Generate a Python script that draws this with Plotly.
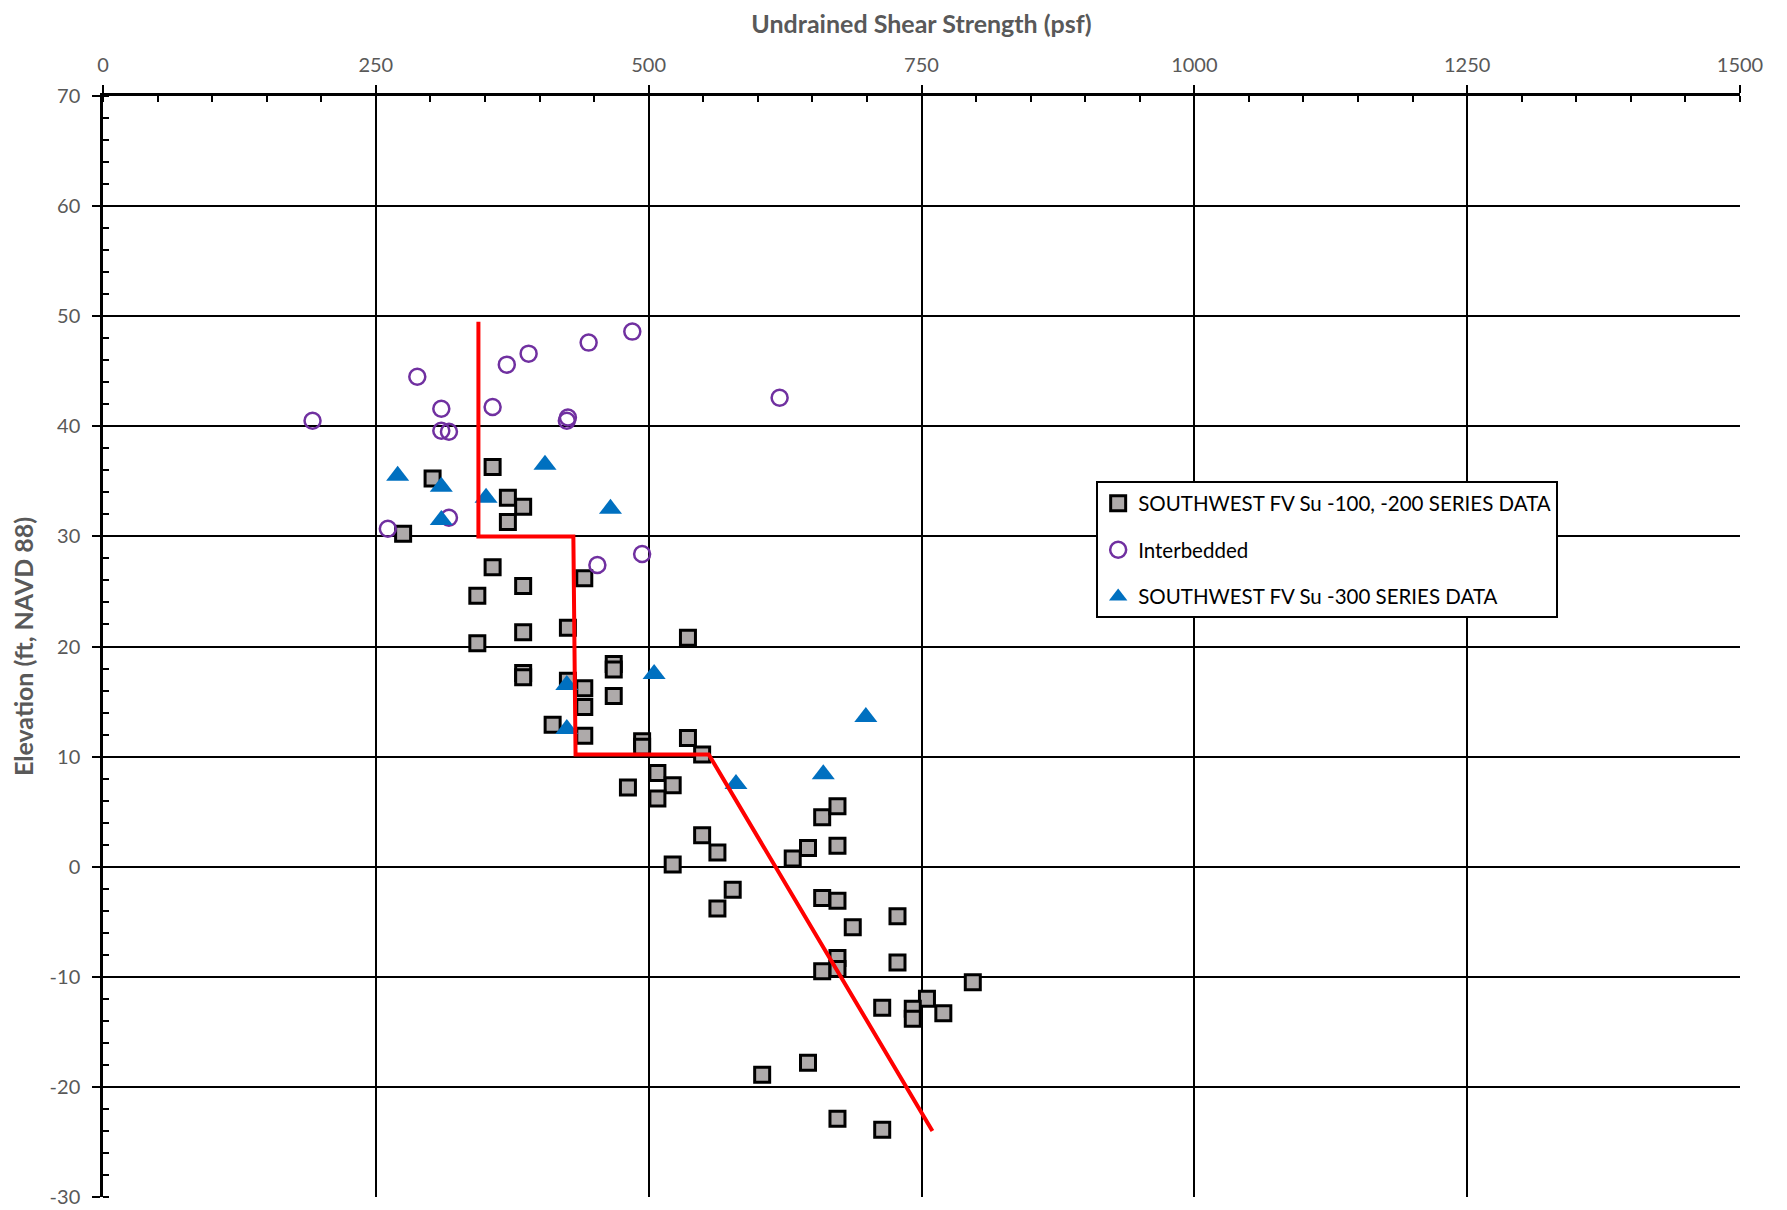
import plotly.graph_objects as go

# ---- data ----
sq_x = [302, 275, 357, 371, 385, 371, 357, 343, 385, 441, 343, 385, 426, 536,
        385, 385, 468, 468, 426, 441, 441, 468, 412, 441, 494, 494, 536, 549,
        508, 522, 481, 508, 549, 563, 522, 577, 563, 632, 646, 659, 673, 673,
        659, 673, 687, 728, 673, 673, 659, 728, 797, 755, 742, 742, 770, 714,
        604, 646, 673, 714]
sq_y = [35.25, 30.25, 36.3, 33.5, 32.7, 31.3, 27.2, 24.6, 25.5, 26.2, 20.3, 21.3, 21.7, 20.8,
        17.6, 17.2, 18.4, 17.9, 16.9, 16.2, 14.5, 15.5, 12.9, 11.9, 11.4, 10.9, 11.7, 10.2,
        8.5, 7.4, 7.2, 6.2, 2.85, 1.3, 0.2, -2.1, -3.8, 0.75, 1.7, 4.5, 5.5, 1.9,
        -2.85, -3.1, -5.5, -4.5, -8.3, -9.3, -9.5, -8.7, -10.5, -12.0, -12.9, -13.8, -13.3, -12.8,
        -18.9, -17.8, -22.9, -23.9]

ci_x = [192, 288, 310, 310, 317, 357, 370, 390, 445, 485, 426, 425, 620, 261, 317, 453, 494]
ci_y = [40.5, 44.5, 41.6, 39.6, 39.5, 41.75, 45.6, 46.6, 47.6, 48.6, 40.8, 40.5, 42.6, 30.7, 31.7, 27.4, 28.4]

tr_x = [270, 310, 310, 351, 405, 465, 425, 425, 505, 580, 660, 699]
tr_y = [35.5, 34.5, 31.5, 33.5, 36.5, 32.5, 16.5, 12.5, 17.5, 7.5, 8.4, 13.6]

line_x = [344, 344, 431, 433, 555, 760]
line_y = [49.5, 30, 30, 10.2, 10.2, -24]

names = ["SOUTHWEST FV Su -100, -200 SERIES DATA", "Interbedded", "SOUTHWEST FV Su -300 SERIES DATA"]

x_ticks = [0, 250, 500, 750, 1000, 1250, 1500]
y_ticks = [-30, -20, -10, 0, 10, 20, 30, 40, 50, 60, 70]
y_tick_labels = ["-30", "-20", "-10", "0", "10", "20", "30", "40", "50", "60", "70"]

FONT = "Lato, 'Open Sans', sans-serif"
GRAY = "#595959"

fig = go.Figure()
fig.add_trace(go.Scatter(x=sq_x, y=sq_y, mode="markers", name=names[0], legendgroup="a",
                         marker=dict(symbol="square", size=15, color="#AEAAAA",
                                     line=dict(color="black", width=3))))
fig.add_trace(go.Scatter(x=ci_x, y=ci_y, mode="markers", name=names[1], legendgroup="b",
                         marker=dict(symbol="circle-open", size=16, color="#7030A0",
                                     line=dict(color="#7030A0", width=2.5))))
fig.add_trace(go.Scatter(x=tr_x, y=tr_y, mode="markers", name=names[2], legendgroup="c",
                         marker=dict(symbol="triangle-up", size=20, color="#0070C0",
                                     line=dict(width=0))))
fig.add_trace(go.Scatter(x=line_x, y=line_y, mode="lines", showlegend=False,
                         line=dict(color="#FF0000", width=4)))

fig.update_layout(
    width=1787, height=1210,
    margin=dict(l=95, r=55, t=88, b=21, autoexpand=False),
    paper_bgcolor="white", plot_bgcolor="white",
    font=dict(family=FONT, color=GRAY, size=20),
    legend=dict(x=0.6067, y=0.65, xanchor="left", yanchor="top",
                bgcolor="white", bordercolor="black", borderwidth=2,
                font=dict(family=FONT, size=20.5, color="black"),
                traceorder="grouped", tracegroupgap=17, itemwidth=30),
)

fig.update_xaxes(
    side="top", range=[0, 1500], tickmode="array", tickvals=x_ticks,
    showgrid=True, gridcolor="black", gridwidth=1.5,
    showline=True, linecolor="black", linewidth=2.5,
    ticks="outside", ticklen=8, tickwidth=2, tickcolor="black",
    ticklabelstandoff=5,
    tickfont=dict(size=20, color=GRAY, family=FONT),
    minor=dict(dtick=50, ticks="inside", ticklen=6, tickwidth=2, tickcolor="black", showgrid=False),
    zeroline=False,
    title=dict(text="<b>Undrained Shear Strength (psf)</b>", font=dict(size=25, color=GRAY, family=FONT), standoff=17),
)
fig.update_yaxes(
    range=[-30, 70], tickmode="array", tickvals=y_ticks, ticktext=y_tick_labels,
    showgrid=True, gridcolor="black", gridwidth=1.5,
    showline=True, linecolor="black", linewidth=2.5,
    ticks="outside", ticklen=8, tickwidth=2, tickcolor="black",
    ticklabelstandoff=8,
    tickfont=dict(size=20, color=GRAY, family=FONT),
    minor=dict(dtick=2, ticks="inside", ticklen=6, tickwidth=2, tickcolor="black", showgrid=False),
    zeroline=False,
    title=dict(text="<b>Elevation (ft, NAVD 88)</b>", font=dict(size=25, color=GRAY, family=FONT), standoff=16),
)

fig.write_html("out.html")
